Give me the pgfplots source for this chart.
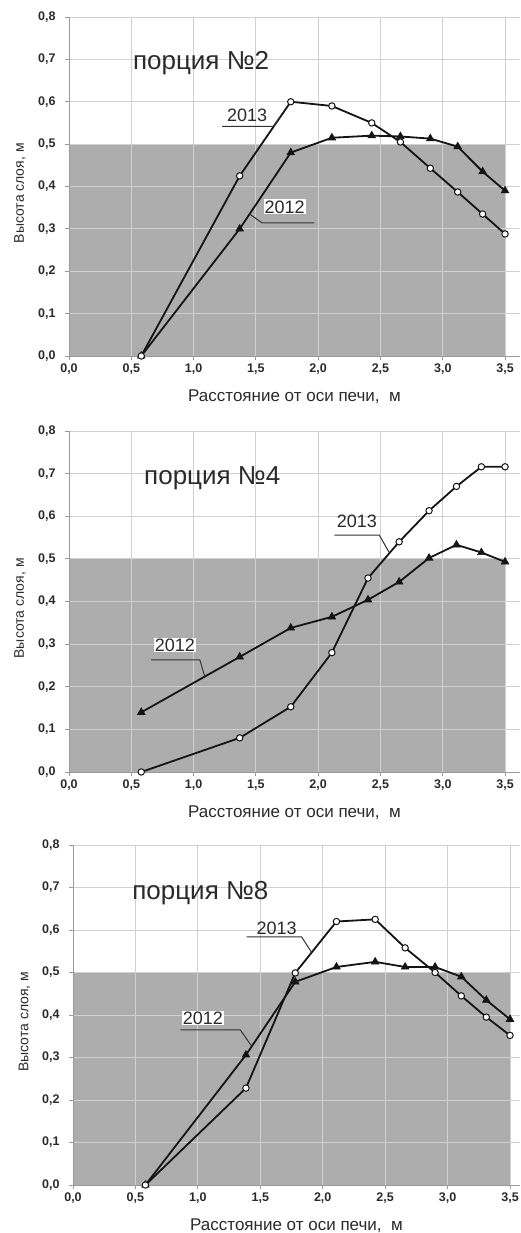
\documentclass[border=0pt]{standalone}
\usepackage{pgfplots}
\pgfplotsset{compat=1.18}
\usepackage{fontspec}
\setmainfont{Liberation Sans}
\definecolor{shade}{HTML}{ADADAD}
\definecolor{gridc}{HTML}{D0D0D0}
\definecolor{axc}{HTML}{9A9A9A}
\definecolor{txt}{HTML}{2A2A2A}
\tikzset{
  ttl/.style={font=\fontsize{26}{28}\selectfont, text=txt},
  yl/.style={font=\fontsize{18}{20}\selectfont, text=txt, inner sep=1pt},
  lead/.style={draw=black!80, line width=1pt},
}
\pgfplotsset{
  panel/.style={
    set layers,
    scale only axis,
    xmin=0, ymin=0, ymax=0.8,
    axis x line*=bottom, axis y line*=left,
    axis line style={draw=axc, line width=0.8pt},
    xtick={0,0.5,1,1.5,2,2.5,3,3.5},
    ytick={0,0.1,0.2,0.3,0.4,0.5,0.6,0.7,0.8},
    grid=major,
    major grid style={draw=gridc, line width=0.8pt},
    tick style={draw=axc, line width=0.8pt},
    tick align=outside, major tick length=4pt,
    tick label style={font=\fontsize{12.5}{14}\selectfont\bfseries, text=txt},
    yticklabel style={xshift=-6pt},
    /pgf/number format/.cd, use comma, fixed, fixed zerofill, precision=1, assume math mode=true,
    /pgfplots/.cd,
    xlabel={Расстояние от оси печи,\ \ м},
    ylabel={Высота слоя, м},
    xlabel style={at={(axis description cs:0.5,0)}, anchor=center, yshift=-41pt, font=\fontsize{17}{19}\selectfont, text=txt},
    ylabel style={at={(axis description cs:-0.1086,0.48)}, anchor=center, font=\fontsize{14}{16}\selectfont, text=txt},
  },
  y2013/.style={draw=black!92, line width=1.8pt, mark=*, mark size=3.2pt, mark options={fill=white, draw=black!92, line width=1pt}},
  y2012/.style={draw=black!92, line width=1.8pt, mark=triangle*, mark size=4.4pt, mark options={fill=black!92, draw=black!92, line width=0.6pt}},
  gray area/.style={fill=shade, draw=none, on layer=axis background},
}
\begin{document}
\begin{tikzpicture}

% ---------- panel 1 ----------
\begin{axis}[panel, at={(69pt,877pt)}, anchor=south west, width=451pt, height=339pt, xmax=3.62]
\addplot[gray area] coordinates {(0,0) (3.5,0) (3.5,0.5) (0,0.5)} \closedcycle;
\addplot[y2012] coordinates {(0.58,0) (1.37,0.30) (1.78,0.48) (2.11,0.515) (2.43,0.52) (2.66,0.518) (2.90,0.513) (3.12,0.494) (3.32,0.435) (3.5,0.39)};
\addplot[y2013] coordinates {(0.58,0) (1.37,0.425) (1.78,0.60) (2.11,0.59) (2.43,0.55) (2.66,0.505) (2.90,0.443) (3.12,0.387) (3.32,0.335) (3.5,0.288)};
\node[ttl] at (axis cs:1.06,0.69) {порция №2};
\draw[lead] (axis cs:1.23,0.542) -- (axis cs:1.64,0.542) -- (axis cs:1.69,0.563);
\node[yl] at (axis cs:1.43,0.567) {2013};
\draw[lead] (axis cs:1.45,0.335) -- (axis cs:1.55,0.314) -- (axis cs:1.97,0.314);
\node[yl, fill=white] at (axis cs:1.73,0.352) {2012};
\end{axis}

% ---------- panel 2 ----------
\begin{axis}[panel, at={(69pt,461pt)}, anchor=south west, width=451pt, height=341pt, xmax=3.62]
\addplot[gray area] coordinates {(0,0) (3.5,0) (3.5,0.5) (0,0.5)} \closedcycle;
\addplot[y2012] coordinates {(0.58,0.14) (1.37,0.27) (1.78,0.338) (2.11,0.364) (2.40,0.404) (2.65,0.446) (2.89,0.502) (3.11,0.533) (3.31,0.515) (3.5,0.493)};
\addplot[y2013] coordinates {(0.58,0) (1.37,0.08) (1.78,0.153) (2.11,0.28) (2.40,0.455) (2.65,0.54) (2.89,0.613) (3.11,0.67) (3.31,0.716) (3.5,0.716)};
\node[ttl] at (axis cs:1.15,0.69) {порция №4};
\draw[lead] (axis cs:2.13,0.556) -- (axis cs:2.49,0.556) -- (axis cs:2.57,0.515);
\node[yl] at (axis cs:2.31,0.588) {2013};
\draw[lead] (axis cs:0.66,0.263) -- (axis cs:1.05,0.263) -- (axis cs:1.09,0.224);
\node[yl, fill=white] at (axis cs:0.85,0.298) {2012};
\end{axis}

% ---------- panel 3 ----------
\begin{axis}[panel, at={(73pt,48pt)}, anchor=south west, width=447pt, height=340pt, xmax=3.58]
\addplot[gray area] coordinates {(0,0) (3.5,0) (3.5,0.5) (0,0.5)} \closedcycle;
\addplot[y2012] coordinates {(0.58,0) (1.385,0.306) (1.78,0.478) (2.11,0.513) (2.42,0.525) (2.66,0.513) (2.90,0.513) (3.11,0.49) (3.31,0.435) (3.5,0.39)};
\addplot[y2013] coordinates {(0.58,0) (1.385,0.228) (1.78,0.499) (2.11,0.62) (2.42,0.625) (2.66,0.558) (2.90,0.50) (3.11,0.445) (3.31,0.395) (3.5,0.352)};
\node[ttl] at (axis cs:1.02,0.687) {порция №8};
\draw[lead] (axis cs:1.39,0.584) -- (axis cs:1.83,0.584) -- (axis cs:1.91,0.548);
\node[yl] at (axis cs:1.63,0.603) {2013};
\draw[lead] (axis cs:0.86,0.365) -- (axis cs:1.34,0.365) -- (axis cs:1.43,0.327);
\node[yl, fill=white] at (axis cs:1.04,0.393) {2012};
\end{axis}
\pgfresetboundingbox
\useasboundingbox (0,0) rectangle (520pt,1233pt);
\end{tikzpicture}
\end{document}
